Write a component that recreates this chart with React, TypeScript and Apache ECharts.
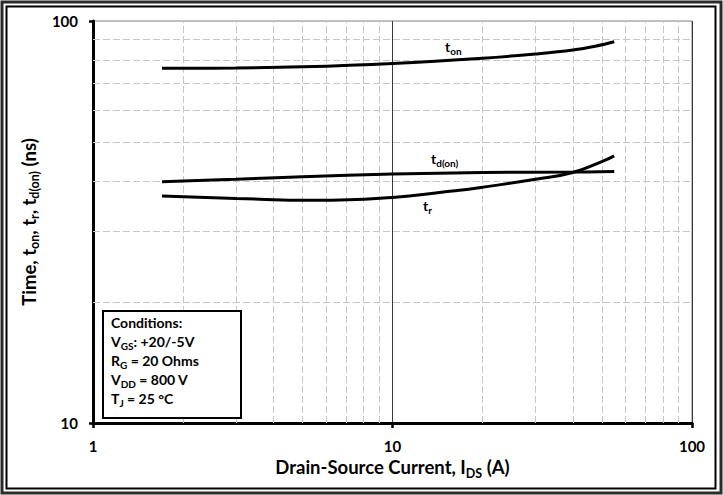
import React, { useEffect, useRef } from "react";
import * as echarts from "echarts";

const xTicks = [1, 10, 100];
const yTicks = [10, 100];
const xMinorGrid = [2, 3, 4, 5, 6, 7, 8, 9, 20, 30, 40, 50, 60, 70, 80, 90];
const yMinorGrid = [20, 30, 40, 50, 60, 70, 80, 90];

const tonI = [1.7, 3, 5, 10, 20, 30, 40, 48, 55];
const tonV = [76.3, 76.4, 76.9, 78.4, 80.8, 82.8, 84.7, 86.7, 88.8];

const tdonI = [1.7, 3, 5, 10, 20, 40, 55];
const tdonV = [39.8, 40.4, 41.0, 41.6, 42.0, 42.1, 42.2];

const trI = [1.7, 3, 5.5, 10, 15, 20, 30, 40, 50, 55];
const trV = [36.7, 36.2, 35.8, 36.4, 37.6, 38.6, 40.4, 42.0, 44.7, 46.2];

const conditions = [
  "{b|Conditions:}",
  "{b|V}{s|GS}{b|: +20/-5V}",
  "{b|R}{s|G}{b| = 20 Ohms}",
  "{b|V}{s|DD}{b| = 800 V}",
  "{b|T}{s|J}{b| = 25 °C}",
];

const FONT = "Lato, 'Open Sans', sans-serif";

const pairs = (xs: number[], ys: number[]) => xs.map((x, i) => [x, ys[i]]);

const makeRich = (big: number, small: number) => ({
  b: {
    fontSize: big,
    fontWeight: "bold",
    fontFamily: FONT,
    color: "#000",
    lineHeight: Math.round(big * 1.2),
    padding: [0, 0, 3, 0],
    verticalAlign: "bottom",
  },
  s: {
    fontSize: small,
    fontWeight: "bold",
    fontFamily: FONT,
    color: "#000",
    lineHeight: Math.round(small * 1.1),
    verticalAlign: "bottom",
  },
});

const labelRich = makeRich(14, 10);
const condRich = makeRich(14, 10);
const titleRich = makeRich(18.5, 12.5);

export default function App() {
  const ref = useRef<HTMLDivElement>(null);
  useEffect(() => {
    if (!ref.current) return;
    const chart = echarts.init(ref.current, undefined, { renderer: "svg" });
    const curveStyle = { color: "#000", width: 3 };
    const tickLabel = {
      fontSize: 15,
      fontWeight: "bold",
      fontFamily: FONT,
      color: "#000",
      formatter: (v: number) => String(Math.round(v)),
    };
    const option: any = {
      animation: false,
      backgroundColor: "#fff",
      grid: {
        left: 93,
        top: 21,
        right: 31,
        bottom: 72,
        show: true,
        borderColor: "#7f7f7f",
        borderWidth: 1,
        backgroundColor: "transparent",
      },
      xAxis: {
        type: "log",
        logBase: 10,
        min: xTicks[0],
        max: xTicks[xTicks.length - 1],
        name: "{b|Drain-Source Current, I}{s|DS}{b| (A)}",
        nameLocation: "middle",
        nameGap: 30,
        nameTextStyle: { rich: titleRich },
        axisLine: { show: true, lineStyle: { color: "#000", width: 3 } },
        axisTick: { show: true, length: 5, lineStyle: { color: "#000", width: 2.5 } },
        axisLabel: { ...tickLabel, margin: 15 },
        splitLine: { show: true, lineStyle: { color: "#3a3a3a", width: 1 } },
        minorTick: { show: false },
      },
      yAxis: {
        type: "log",
        logBase: 10,
        min: yTicks[0],
        max: yTicks[yTicks.length - 1],
        name: "{b|Time, t}{s|on}{b|, t}{s|r}{b|, t}{s|d(on)}{b| (ns)}",
        nameLocation: "middle",
        nameGap: 42,
        nameRotate: 90,
        nameTextStyle: { rich: titleRich },
        axisLine: { show: true, lineStyle: { color: "#000", width: 3 } },
        axisTick: { show: true, length: 4, lineStyle: { color: "#000", width: 2.5 } },
        axisLabel: { ...tickLabel, margin: 15 },
        splitLine: { show: false },
      },
      series: [
        {
          name: "grid",
          type: "line",
          data: [],
          silent: true,
          z: 1,
          markLine: {
            silent: true,
            symbol: ["none", "none"],
            label: { show: false },
            lineStyle: { color: "#c6c6c6", width: 1, type: [7, 3] },
            emphasis: { disabled: true },
            data: [
              ...xMinorGrid.map((v) => ({ xAxis: v })),
              ...yMinorGrid.map((v) => ({ yAxis: v })),
            ],
          },
        },
        {
          name: "ton",
          type: "line",
          data: pairs(tonI, tonV),
          smooth: 0.4,
          showSymbol: false,
          symbol: "none",
          lineStyle: curveStyle,
          z: 5,
        },
        {
          name: "tdon",
          type: "line",
          data: pairs(tdonI, tdonV),
          smooth: 0.4,
          showSymbol: false,
          symbol: "none",
          lineStyle: curveStyle,
          z: 5,
        },
        {
          name: "tr",
          type: "line",
          data: pairs(trI, trV),
          smooth: 0.5,
          showSymbol: false,
          symbol: "none",
          lineStyle: curveStyle,
          z: 5,
        },
      ],
      graphic: [
        {
          type: "rect",
          shape: { x: 2, y: 2, width: 719, height: 491 },
          style: { fill: "none", stroke: "#2b2b2b", lineWidth: 3 },
          silent: true,
        },
        {
          type: "rect",
          shape: { x: 6.5, y: 6.5, width: 709, height: 482 },
          style: { fill: "none", stroke: "#000", lineWidth: 2 },
          silent: true,
        },
        {
          type: "rect",
          shape: { x: 103, y: 311, width: 138, height: 107 },
          style: { fill: "#fff", stroke: "#000", lineWidth: 2 },
          z: 10,
          silent: true,
        },
        ...conditions.map((t, i) => ({
          type: "text",
          x: 111,
          y: 315 + i * 19,
          z: 11,
          silent: true,
          style: { text: t, rich: condRich, fill: "#000" },
        })),
        {
          type: "text",
          x: 445,
          y: 39,
          z: 11,
          silent: true,
          style: { text: "{b|t}{s|on}", rich: labelRich },
        },
        {
          type: "text",
          x: 431,
          y: 151,
          z: 11,
          silent: true,
          style: { text: "{b|t}{s|d(on)}", rich: labelRich },
        },
        {
          type: "text",
          x: 423,
          y: 198,
          z: 11,
          silent: true,
          style: { text: "{b|t}{s|r}", rich: labelRich },
        },
      ],
    };
    chart.setOption(option);
    return () => chart.dispose();
  }, []);
  return <div ref={ref} style={{ width: 723, height: 495, position: "absolute", left: 0, top: 0 }} />;
}
